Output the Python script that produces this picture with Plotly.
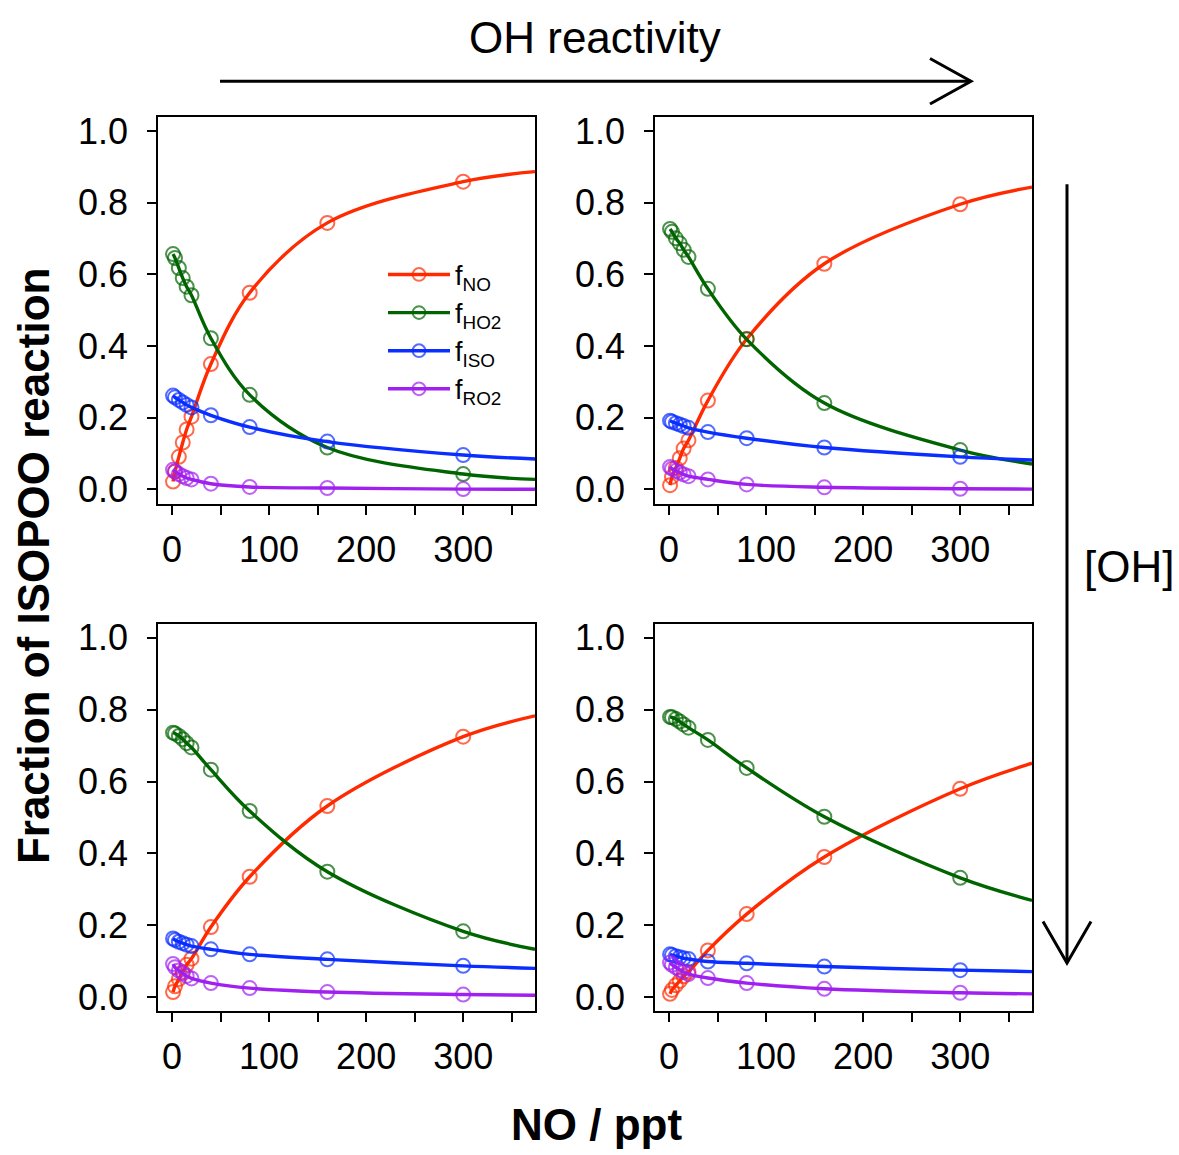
import plotly.graph_objects as go

# ---------------- data ----------------
no_ppt = [1, 3, 7, 11, 15, 20, 40, 80, 160, 300]
x_end = 374

series_names = ["f<sub>NO</sub>", "f<sub>HO2</sub>", "f<sub>ISO</sub>", "f<sub>RO2</sub>"]
series_colors = ["#FF2A00", "#006400", "#0A2EFF", "#A020F0"]

# panel: top-left
tl_no = [0.022, 0.050, 0.091, 0.131, 0.1675, 0.203, 0.350, 0.549, 0.744, 0.859]
tl_ho2 = [0.657, 0.646, 0.618, 0.590, 0.566, 0.542, 0.422, 0.264, 0.117, 0.043]
tl_iso = [0.262, 0.257, 0.250, 0.243, 0.236, 0.229, 0.207, 0.174, 0.1335, 0.096]
tl_ro2 = [0.055, 0.050, 0.043, 0.037, 0.032, 0.028, 0.016, 0.007, 0.004, 0.001]
tl_end = [0.887, 0.028, 0.085, 0.0005]

# panel: top-right
tr_no = [0.012, 0.035, 0.060, 0.087, 0.114, 0.137, 0.248, 0.420, 0.630, 0.796]
tr_ho2 = [0.727, 0.719, 0.701, 0.687, 0.669, 0.649, 0.560, 0.419, 0.241, 0.110]
tr_iso = [0.192, 0.189, 0.185, 0.181, 0.177, 0.172, 0.160, 0.143, 0.117, 0.091]
tr_ro2 = [0.063, 0.058, 0.052, 0.047, 0.042, 0.037, 0.028, 0.014, 0.006, 0.002]
tr_end = [0.844, 0.071, 0.082, 0.001]

# panel: bottom-left
bl_no = [0.014, 0.030, 0.050, 0.070, 0.090, 0.107, 0.195, 0.335, 0.532, 0.725]
bl_ho2 = [0.736, 0.734, 0.727, 0.718, 0.707, 0.695, 0.633, 0.518, 0.349, 0.183]
bl_iso = [0.163, 0.159, 0.154, 0.150, 0.146, 0.142, 0.133, 0.119, 0.105, 0.087]
bl_ro2 = [0.092, 0.083, 0.074, 0.066, 0.059, 0.052, 0.039, 0.025, 0.014, 0.007]
bl_end = [0.783, 0.133, 0.080, 0.005]

# panel: bottom-right
br_no = [0.009, 0.020, 0.033, 0.045, 0.058, 0.070, 0.130, 0.231, 0.390, 0.580]
br_ho2 = [0.780, 0.779, 0.774, 0.767, 0.759, 0.750, 0.716, 0.638, 0.502, 0.332]
br_iso = [0.119, 0.117, 0.114, 0.111, 0.108, 0.106, 0.099, 0.094, 0.085, 0.075]
br_ro2 = [0.096, 0.090, 0.083, 0.076, 0.070, 0.064, 0.053, 0.039, 0.023, 0.012]
br_end = [0.651, 0.269, 0.071, 0.009]

x_tickvals = [0, 50, 100, 150, 200, 250, 300, 350]
x_ticktext = ["0", "", "100", "", "200", "", "300", ""]
y_tickvals = [0, 0.2, 0.4, 0.6, 0.8, 1.0]
y_ticktext = ["0.0", "0.2", "0.4", "0.6", "0.8", "1.0"]

panels = [
    ([tl_no, tl_ho2, tl_iso, tl_ro2], tl_end, "x", "y"),
    ([tr_no, tr_ho2, tr_iso, tr_ro2], tr_end, "x2", "y2"),
    ([bl_no, bl_ho2, bl_iso, bl_ro2], bl_end, "x3", "y3"),
    ([br_no, br_ho2, br_iso, br_ro2], br_end, "x4", "y4"),
]

FONT = "Liberation Sans, Arial, sans-serif"
W, H = 1179, 1155

fig = go.Figure()
for pi, (ser, ends, xa, ya) in enumerate(panels):
    for si, vals in enumerate(ser):
        xs = no_ppt + [x_end]
        ys = vals + [ends[si]]
        fig.add_trace(go.Scatter(
            x=xs, y=ys, xaxis=xa, yaxis=ya,
            mode="lines+markers",
            name=series_names[si],
            showlegend=(pi == 0),
            line=dict(color=series_colors[si], width=3.4, shape="spline", smoothing=1.0),
            marker=dict(symbol="circle-open", size=[14] * len(no_ppt) + [0],
                        color=series_colors[si], line=dict(width=2, color=series_colors[si])),
        ))

def px_x(p):
    return p / W

def px_y(p):
    return 1 - p / H

xdom_l = [px_x(158), px_x(535)]
xdom_r = [px_x(655), px_x(1032)]
ydom_t = [px_y(503), px_y(112)]
ydom_b = [px_y(1016), px_y(624)]

axis_common = dict(showline=True, mirror=True, linecolor="black", linewidth=1.5,
                   ticks="outside", ticklen=9, tickwidth=1.5, tickcolor="black",
                   showgrid=False, zeroline=False,
                   tickfont=dict(family=FONT, size=36, color="black"))

layout_axes = {}
specs = [("xaxis", "yaxis", xdom_l, ydom_t, "x", "y"),
         ("xaxis2", "yaxis2", xdom_r, ydom_t, "x2", "y2"),
         ("xaxis3", "yaxis3", xdom_l, ydom_b, "x3", "y3"),
         ("xaxis4", "yaxis4", xdom_r, ydom_b, "x4", "y4")]
for xk, yk, xd, yd, xa, ya in specs:
    layout_axes[xk] = dict(axis_common, domain=xd, anchor=ya, range=[-14.5, 374],
                           tickmode="array", tickvals=x_tickvals, ticktext=x_ticktext,
                           ticklabelstandoff=4)
    layout_axes[yk] = dict(axis_common, domain=yd, anchor=xa, range=[-0.04, 1.04],
                           tickmode="array", tickvals=y_tickvals, ticktext=y_ticktext,
                           ticklabelstandoff=12)

fig.update_layout(
    width=W, height=H,
    margin=dict(l=0, r=0, t=0, b=0),
    paper_bgcolor="white", plot_bgcolor="white",
    font=dict(family=FONT, color="black"),
    showlegend=True,
    legend=dict(x=px_x(383), y=px_y(247), xanchor="left", yanchor="top",
                bgcolor="rgba(0,0,0,0)", font=dict(family=FONT, size=27, color="black"),
                tracegroupgap=0, itemwidth=62),
    **layout_axes,
)

annots = [
    dict(text="OH reactivity", x=px_x(595), y=px_y(32), size=44, angle=0),
    dict(text="[OH]", x=px_x(1129), y=px_y(566), size=44, angle=0),
    dict(text="<b>NO / ppt</b>", x=px_x(596), y=px_y(1130), size=44, angle=0),
    dict(text="<b>Fraction of ISOPOO reaction</b>", x=px_x(33), y=px_y(566), size=44, angle=-90),
]
for a in annots:
    fig.add_annotation(text=a["text"], x=a["x"], y=a["y"], xref="paper", yref="paper",
                       showarrow=False, textangle=a["angle"], xanchor="center", yanchor="middle",
                       font=dict(family=FONT, size=a["size"], color="black"))

# arrows (decorations)
def path_px(points):
    return "M " + " L ".join(f"{px_x(x):.5f},{px_y(y):.5f}" for x, y in points)

shape_line = dict(color="black", width=3)
fig.add_shape(type="path", xref="paper", yref="paper", path=path_px([(220, 76), (971, 76)]), line=shape_line)
fig.add_shape(type="path", xref="paper", yref="paper", path=path_px([(930, 53), (971, 76), (930, 99)]), line=shape_line)
fig.add_shape(type="path", xref="paper", yref="paper", path=path_px([(1067, 180), (1067, 967)]), line=shape_line)
fig.add_shape(type="path", xref="paper", yref="paper", path=path_px([(1043, 925), (1067, 967), (1091, 925)]), line=shape_line)

fig.write_html(
    "out.html",
    config={"displayModeBar": False},
    post_script="document.body.style.margin='0';document.body.style.padding='0';"
                "document.body.style.overflow='hidden';",
)
